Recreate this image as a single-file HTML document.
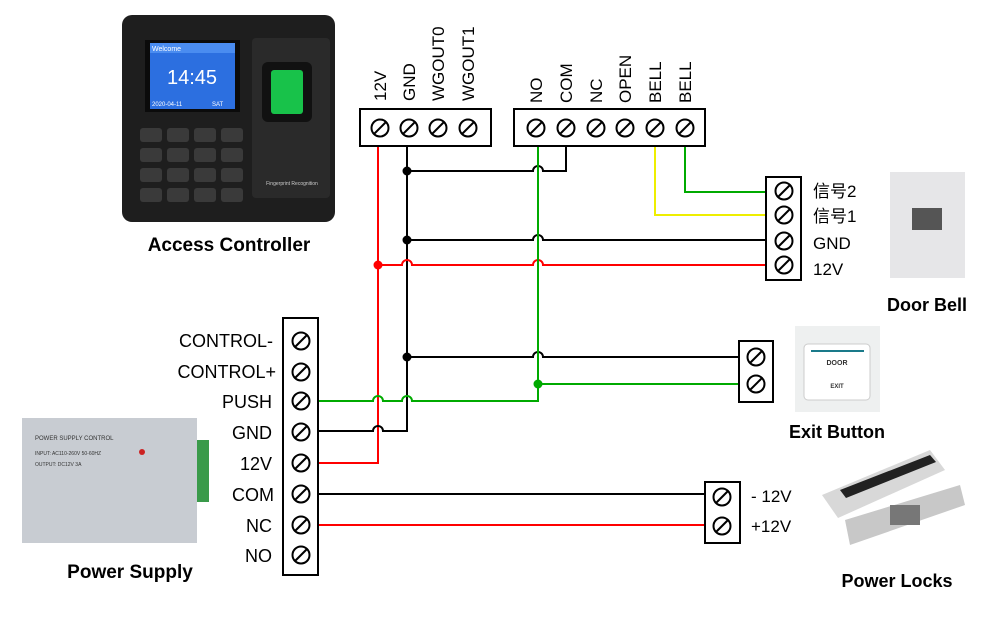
<!DOCTYPE html>
<html><head><meta charset="utf-8"><style>
html,body{margin:0;padding:0;background:#fff;}
svg{display:block}
text{font-family:"Liberation Sans",Arial,sans-serif}
</style></head><body>
<svg width="1000" height="628" viewBox="0 0 1000 628" xmlns="http://www.w3.org/2000/svg">
<defs>
<g id="s"><circle r="8.5" fill="#fff" stroke="#000" stroke-width="2"/><line x1="-6" y1="6" x2="6" y2="-6" stroke="#000" stroke-width="2"/></g>
</defs>

<!-- Access controller device -->
<rect x="122" y="15" width="213" height="207" rx="10" fill="#1e1e1e"/>
<rect x="145" y="40" width="95" height="72" fill="#0b0b0b"/>
<rect x="150" y="43" width="85" height="66" fill="#2c6fe0"/>
<rect x="150" y="43" width="85" height="10" fill="#4a8cf0"/>
<text x="152" y="51" font-size="7" fill="#fff">Welcome</text>
<text x="192" y="84" font-size="20" fill="#fff" text-anchor="middle">14:45</text>
<text x="152" y="106" font-size="6" fill="#fff">2020-04-11</text>
<text x="212" y="106" font-size="6" fill="#fff">SAT</text>
<rect x="252" y="38" width="78" height="160" rx="4" fill="#2a2a2a"/>
<rect x="262" y="62" width="50" height="60" rx="6" fill="#111"/>
<rect x="271" y="70" width="32" height="44" rx="3" fill="#18c24a"/>
<text x="292" y="185" font-size="5" fill="#ccc" text-anchor="middle">Fingerprint Recognition</text>
<g fill="#3a3a3a">
<rect x="140" y="128" width="22" height="14" rx="3"/><rect x="167" y="128" width="22" height="14" rx="3"/><rect x="194" y="128" width="22" height="14" rx="3"/><rect x="221" y="128" width="22" height="14" rx="3"/>
<rect x="140" y="148" width="22" height="14" rx="3"/><rect x="167" y="148" width="22" height="14" rx="3"/><rect x="194" y="148" width="22" height="14" rx="3"/><rect x="221" y="148" width="22" height="14" rx="3"/>
<rect x="140" y="168" width="22" height="14" rx="3"/><rect x="167" y="168" width="22" height="14" rx="3"/><rect x="194" y="168" width="22" height="14" rx="3"/><rect x="221" y="168" width="22" height="14" rx="3"/>
<rect x="140" y="188" width="22" height="14" rx="3"/><rect x="167" y="188" width="22" height="14" rx="3"/><rect x="194" y="188" width="22" height="14" rx="3"/><rect x="221" y="188" width="22" height="14" rx="3"/>
</g>
<text x="229" y="251" font-size="19" font-weight="bold" text-anchor="middle">Access Controller</text>

<!-- Power supply device -->
<rect x="22" y="418" width="175" height="125" fill="#c8ccd2"/>
<rect x="197" y="440" width="12" height="62" fill="#3a9a4a"/>
<text x="35" y="440" font-size="6" fill="#333">POWER SUPPLY CONTROL</text>
<text x="35" y="455" font-size="5" fill="#333">INPUT: AC110-260V 50-60HZ</text>
<text x="35" y="466" font-size="5" fill="#333">OUTPUT: DC12V 3A</text>
<circle cx="142" cy="452" r="3" fill="#c22"/>
<text x="130" y="578" font-size="19" font-weight="bold" text-anchor="middle">Power Supply</text>

<!-- Door bell -->
<rect x="890" y="172" width="75" height="106" fill="#e6e6e8"/>
<rect x="912" y="208" width="30" height="22" fill="#555"/>
<text x="927" y="311" font-size="18" font-weight="bold" text-anchor="middle">Door Bell</text>
<!-- Exit button -->
<rect x="795" y="326" width="85" height="86" fill="#eef0f0"/>
<rect x="804" y="344" width="66" height="56" rx="4" fill="#fff" stroke="#ccc"/>
<line x1="811" y1="351" x2="864" y2="351" stroke="#1a7a8a" stroke-width="2"/>
<text x="837" y="365" font-size="7" font-weight="bold" text-anchor="middle" fill="#333">DOOR</text>
<text x="837" y="388" font-size="6" font-weight="bold" text-anchor="middle" fill="#333">EXIT</text>
<text x="837" y="438" font-size="18" font-weight="bold" text-anchor="middle">Exit Button</text>
<!-- Locks -->
<polygon points="822,495 930,450 945,470 838,518" fill="#d8d8d8"/>
<polygon points="840,490 930,455 936,462 846,498" fill="#222"/>
<polygon points="845,520 960,485 965,505 850,545" fill="#c8c8c8"/>
<rect x="890" y="505" width="30" height="20" fill="#777"/>
<text x="897" y="587" font-size="18" font-weight="bold" text-anchor="middle">Power Locks</text>

<!-- Wires -->
<g fill="none" stroke-width="2">
<path d="M378 146 V463 H318" stroke="#f00"/>
<path d="M685 146 V192 H768" stroke="#0a0"/>
<path d="M655 146 V215 H768" stroke="#ee0"/>
<path d="M566 146 V171 H543 a5 5 0 0 0 -10 0 H407" stroke="#000"/>
<path d="M407 146 V431 H383 a5 5 0 0 0 -10 0 H318" stroke="#000"/>
<path d="M407 240 H533 a5 5 0 0 1 10 0 H768" stroke="#000"/>
<path d="M378 265 H402 a5 5 0 0 1 10 0 H533 a5 5 0 0 1 10 0 H768" stroke="#f00"/>
<path d="M407 357 H533 a5 5 0 0 1 10 0 H740" stroke="#000"/>
<path d="M538 146 V401 H412 a5 5 0 0 0 -10 0 H383 a5 5 0 0 0 -10 0 H318" stroke="#0a0"/>
<path d="M538 384 H740" stroke="#0a0"/>
<path d="M318 494 H706" stroke="#000"/>
<path d="M318 525 H706" stroke="#f00"/>
</g>
<circle cx="378" cy="265" r="4.5" fill="#f00"/>
<circle cx="407" cy="171" r="4.5" fill="#000"/>
<circle cx="407" cy="240" r="4.5" fill="#000"/>
<circle cx="407" cy="357" r="4.5" fill="#000"/>
<circle cx="538" cy="384" r="4.5" fill="#0a0"/>

<!-- Top blocks -->
<rect x="360" y="109" width="131" height="37" fill="#fff" stroke="#000" stroke-width="2"/>
<use href="#s" x="380" y="128"/><use href="#s" x="409" y="128"/><use href="#s" x="438" y="128"/><use href="#s" x="468" y="128"/>
<rect x="514" y="109" width="191" height="37" fill="#fff" stroke="#000" stroke-width="2"/>
<use href="#s" x="536" y="128"/><use href="#s" x="566" y="128"/><use href="#s" x="596" y="128"/><use href="#s" x="625" y="128"/><use href="#s" x="655" y="128"/><use href="#s" x="685" y="128"/>
<g font-size="17">
<text transform="translate(386,101) rotate(-90)">12V</text>
<text transform="translate(415,101) rotate(-90)">GND</text>
<text transform="translate(444,101) rotate(-90)">WGOUT0</text>
<text transform="translate(474,101) rotate(-90)">WGOUT1</text>
<text transform="translate(542,103) rotate(-90)">NO</text>
<text transform="translate(572,103) rotate(-90)">COM</text>
<text transform="translate(602,103) rotate(-90)">NC</text>
<text transform="translate(631,103) rotate(-90)">OPEN</text>
<text transform="translate(661,103) rotate(-90)">BELL</text>
<text transform="translate(691,103) rotate(-90)">BELL</text>
</g>

<!-- Door bell block -->
<rect x="766" y="177" width="35" height="103" fill="#fff" stroke="#000" stroke-width="2"/>
<use href="#s" x="784" y="191"/><use href="#s" x="784" y="215"/><use href="#s" x="784" y="241"/><use href="#s" x="784" y="265"/>
<g font-size="17">
<text x="813" y="197" font-family="'Liberation Serif','Noto Serif CJK SC',serif">信号2</text>
<text x="813" y="222" font-family="'Liberation Serif','Noto Serif CJK SC',serif">信号1</text>
<text x="813" y="249">GND</text>
<text x="813" y="275">12V</text>
</g>

<!-- Exit block -->
<rect x="739" y="341" width="34" height="61" fill="#fff" stroke="#000" stroke-width="2"/>
<use href="#s" x="756" y="357"/><use href="#s" x="756" y="384"/>

<!-- Lock block -->
<rect x="705" y="482" width="35" height="61" fill="#fff" stroke="#000" stroke-width="2"/>
<use href="#s" x="722" y="497"/><use href="#s" x="722" y="526"/>
<text x="751" y="502" font-size="17">- 12V</text>
<text x="751" y="532" font-size="17">+12V</text>

<!-- Left block -->
<rect x="283" y="318" width="35" height="257" fill="#fff" stroke="#000" stroke-width="2"/>
<g>
<use href="#s" x="301" y="341"/><use href="#s" x="301" y="372"/><use href="#s" x="301" y="401"/><use href="#s" x="301" y="432"/>
<use href="#s" x="301" y="463"/><use href="#s" x="301" y="494"/><use href="#s" x="301" y="525"/><use href="#s" x="301" y="555"/>
</g>
<g font-size="18" text-anchor="end">
<text x="273" y="347">CONTROL-</text>
<text x="276" y="378">CONTROL+</text>
<text x="272" y="408">PUSH</text>
<text x="272" y="439">GND</text>
<text x="272" y="470">12V</text>
<text x="274" y="501">COM</text>
<text x="272" y="532">NC</text>
<text x="272" y="562">NO</text>
</g>
</svg>
</body></html>
